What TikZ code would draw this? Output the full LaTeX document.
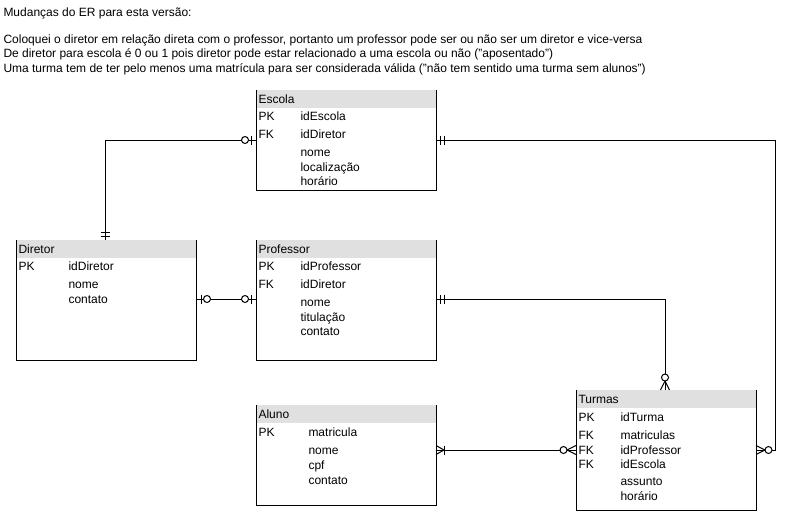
\documentclass[tikz,border=0pt]{standalone}
\usepackage{fontspec}
\setmainfont{Liberation Sans}
\usetikzlibrary{calc}
\definecolor{hdr}{RGB}{224,224,224}
\tikzset{
  txt/.style={anchor=base west, inner sep=0pt, font=\fontsize{12}{14}\selectfont},
  entshape/.style={draw=none, inner sep=0pt, outer sep=0pt, anchor=north west},
  zeroone/.pic={\draw (5,-4.5) -- (5,4.5); \draw[fill=white] (11,0) circle[radius=3.5pt];},
  oneone/.pic={\draw (4,-4.5) -- (4,4.5); \draw (8,-4.5) -- (8,4.5);},
  zeromany/.pic={\draw (0,-4.5) -- (9,0) -- (0,4.5); \draw[fill=white] (12.5,0) circle[radius=3.5pt];},
  onemany/.pic={\draw (0,-4.5) -- (8,0) -- (0,4.5); \draw (8,-4.5) -- (8,4.5);},
}
\newcommand\entbox[6]{%
  \node[entshape, minimum width=#4pt, minimum height=#5pt] (#1) at (#2,#3) {};
  \fill[hdr] (#1.north west) rectangle ($(#1.north east)+(0,18)$);
  \draw (#1.north west) -- (#1.south west) -- (#1.south east) -- (#1.north east);
  \node[txt] (#1-title) at ($(#1.north west)+(2,13)$) {#6};
}
\begin{document}
\begin{tikzpicture}[x=1pt,y=-1pt,line width=1pt]
\useasboundingbox (0,0) rectangle (785,512);
\fill[white] (0,0) rectangle (785,512);

% notes
\node[txt] (n1) at (3,16) {Mudanças do ER para esta versão:};
\node[txt] (n2) at (3,43) {Coloquei o diretor em relação direta com o professor, portanto um professor pode ser ou não ser um diretor e vice-versa};
\node[txt] (n3) at (3,57.5) {De diretor para escola é 0 ou 1 pois diretor pode estar relacionado a uma escola ou não ("aposentado")};
\node[txt] (n4) at (3,72) {Uma turma tem de ter pelo menos uma matrícula para ser considerada válida ("não tem sentido uma turma sem alunos")};

% entities
\entbox{esc}{256}{90}{180}{100}{Escola}
\node[txt] (esc-k1) at (258,120) {PK};
\node[txt] (esc-k2) at (258,138) {FK};
\node[txt] (esc-f1) at (300,120) {idEscola};
\node[txt] (esc-f2) at (300,138) {idDiretor};
\node[txt] (esc-f3) at (300,156) {nome};
\node[txt] (esc-f4) at (300,171) {localização};
\node[txt] (esc-f5) at (300,185) {horário};

\entbox{dir}{16}{240}{180}{120}{Diretor}
\node[txt] (dir-k1) at (18,270) {PK};
\node[txt] (dir-f1) at (68,270) {idDiretor};
\node[txt] (dir-f2) at (68,288) {nome};
\node[txt] (dir-f3) at (68,303) {contato};

\entbox{prof}{256}{240}{180}{120}{Professor}
\node[txt] (prof-k1) at (258,270) {PK};
\node[txt] (prof-k2) at (258,288) {FK};
\node[txt] (prof-f1) at (300,270) {idProfessor};
\node[txt] (prof-f2) at (300,288) {idDiretor};
\node[txt] (prof-f3) at (300,306) {nome};
\node[txt] (prof-f4) at (300,321) {titulação};
\node[txt] (prof-f5) at (300,335.5) {contato};

\entbox{alu}{256}{405}{180}{100}{Aluno}
\node[txt] (alu-k1) at (258,436) {PK};
\node[txt] (alu-f1) at (308,436) {matricula};
\node[txt] (alu-f2) at (308,454) {nome};
\node[txt] (alu-f3) at (308,469) {cpf};
\node[txt] (alu-f4) at (308,484) {contato};

\entbox{tur}{576}{390}{180}{120}{Turmas}
\node[txt] (tur-k1) at (578,421) {PK};
\node[txt] (tur-k2) at (578,439) {FK};
\node[txt] (tur-k3) at (578,454) {FK};
\node[txt] (tur-k4) at (578,468) {FK};
\node[txt] (tur-f1) at (620,421) {idTurma};
\node[txt] (tur-f2) at (620,439) {matriculas};
\node[txt] (tur-f3) at (620,454) {idProfessor};
\node[txt] (tur-f4) at (620,468) {idEscola};
\node[txt] (tur-f5) at (620,485) {assunto};
\node[txt] (tur-f6) at (620,500) {horário};

% ports
\coordinate (escL) at ($(esc.north west)+(0,50)$);
\coordinate (escR) at ($(esc.north east)+(0,50)$);
\coordinate (dirT) at ($(dir.north west)+(89,0)$);
\coordinate (dirR) at ($(dir.north east)+(0,59)$);
\coordinate (profL) at ($(prof.north west)+(0,59)$);
\coordinate (profR) at ($(prof.north east)+(0,59)$);
\coordinate (aluR) at ($(alu.north east)+(0,45)$);
\coordinate (turL) at ($(tur.north west)+(0,60)$);
\coordinate (turR) at ($(tur.north east)+(0,60)$);
\coordinate (turT) at ($(tur.north west)+(89,0)$);

% connectors
\draw (escL) -| (dirT);
\draw (escR) -| ($(turR)+(19,0)$) -- (turR);
\draw (dirR) -- (profL);
\draw (profR) -| (turT);
\draw (aluR) -- (turL);

% markers
\pic[rotate=180] at (escL) {zeroone};
\pic[rotate=90] at (dirT) {oneone};
\pic at (escR) {oneone};
\pic at (turR) {zeromany};
\pic at (dirR) {zeroone};
\pic[rotate=180] at (profL) {zeroone};
\pic at (profR) {oneone};
\pic[rotate=90] at (turT) {zeromany};
\pic at (aluR) {onemany};
\pic[rotate=180] at (turL) {zeromany};
\end{tikzpicture}
\end{document}
